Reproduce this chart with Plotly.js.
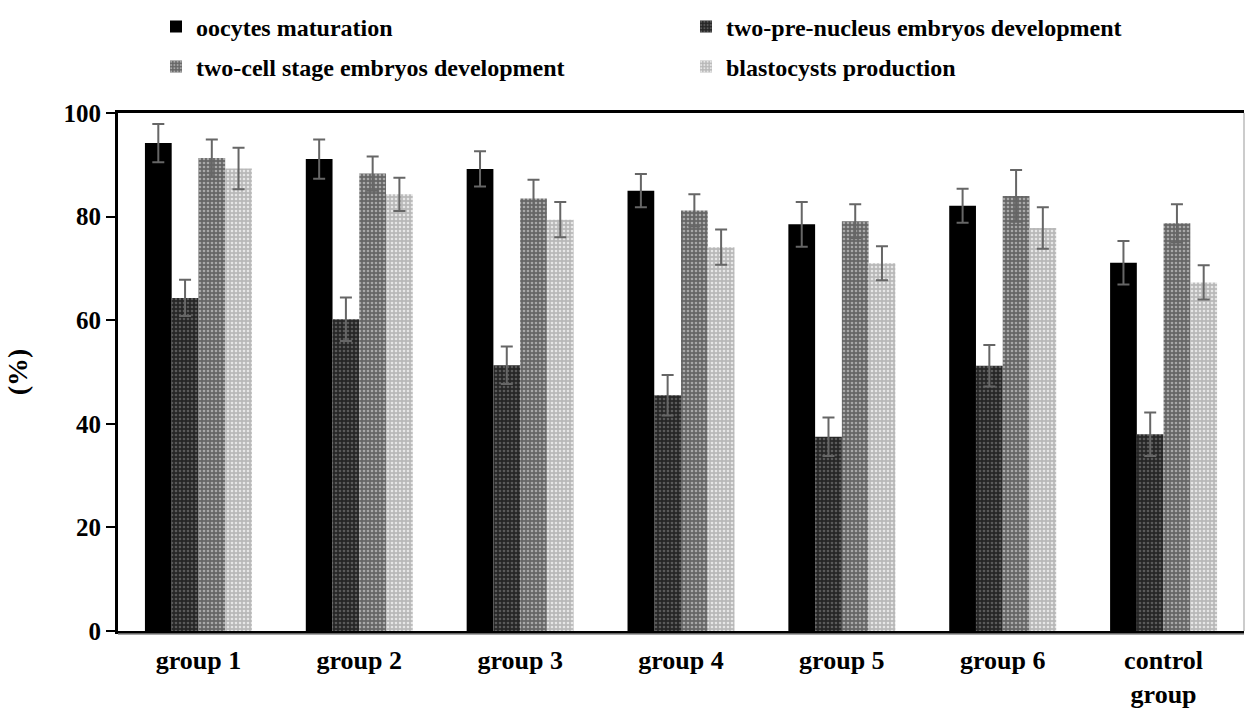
<!DOCTYPE html>
<html><head><meta charset="utf-8">
<script src="https://cdn.plot.ly/plotly-3.0.1.min.js"></script>
<style>html,body{margin:0;padding:0;background:#fff}#chart{width:1245px;height:710px}</style>
</head><body><div id="chart"></div>
<script>
const groups = ["group 1","group 2","group 3","group 4","group 5","group 6","control<br>group"];
const seriesNames = ["oocytes maturation","two-pre-nucleus embryos development","two-cell stage embryos development","blastocysts production"];
const oocytes = [94.2, 91.1, 89.2, 85.0, 78.5, 82.1, 71.1];
const oocytesErr = [3.7, 3.8, 3.4, 3.2, 4.3, 3.3, 4.2];
const twoPre = [64.3, 60.2, 51.3, 45.5, 37.5, 51.2, 38.0];
const twoPreErr = [3.5, 4.2, 3.6, 3.9, 3.7, 4.0, 4.2];
const twoCell = [91.3, 88.3, 83.5, 81.2, 79.1, 84.0, 78.7];
const twoCellErr = [3.6, 3.3, 3.6, 3.1, 3.3, 5.0, 3.7];
const blasto = [89.3, 84.3, 79.4, 74.1, 71.0, 77.8, 67.3];
const blastoErr = [4.0, 3.2, 3.4, 3.4, 3.3, 4.0, 3.3];
const yTicks = [0, 20, 40, 60, 80, 100];

const values = [oocytes, twoPre, twoCell, blasto];
const errs = [oocytesErr, twoPreErr, twoCellErr, blastoErr];
const styles = [
  {color:"#000000", pattern:{shape:""}},
  {color:"#2b2b2b", pattern:{shape:".", fgcolor:"#5a5a5a", bgcolor:"#262626", size:4, solidity:0.35, fillmode:"replace"}},
  {color:"#6e6e6e", pattern:{shape:".", fgcolor:"#a8a8a8", bgcolor:"#666666", size:4, solidity:0.35, fillmode:"replace"}},
  {color:"#c4c4c4", pattern:{shape:".", fgcolor:"#e6e6e6", bgcolor:"#b8b8b8", size:4, solidity:0.35, fillmode:"replace"}}
];
const legendsFor = ["legend","legend","legend2","legend2"];

const traces = values.map((v,i)=>({
  type:"bar", name:seriesNames[i], x:groups, y:v,
  marker:{color:styles[i].color, pattern:styles[i].pattern, line:{width:0}},
  error_y:{type:"data", array:errs[i], visible:true, color:"#666666", thickness:2, width:6},
  legend:legendsFor[i], hoverinfo:"y"
}));

const font = {family:"Liberation Serif, Times New Roman, serif", size:24, color:"#000", weight:"bold"};

const legendBase = {orientation:"h", xref:"container", x:156/1245, xanchor:"left", yref:"container", yanchor:"middle",
    entrywidth:485, entrywidthmode:"pixels", font:font, itemwidth:30, bgcolor:"rgba(0,0,0,0)", traceorder:"normal"};

const layout = {
  width:1245, height:710,
  margin:{l:118, r:1, t:113, b:79},
  paper_bgcolor:"#fff", plot_bgcolor:"#fff",
  barmode:"group", bargap:0.335, bargroupgap:0,
  font:font,
  xaxis:{type:"category", showline:true, linecolor:"#000", linewidth:3, mirror:true,
    ticks:"", showgrid:false, tickfont:{...font, size:26}, ticklabelstandoff:4, automargin:false},
  yaxis:{range:[0,100], tickvals:yTicks, showline:true, linecolor:"#000", linewidth:3,
    ticks:"outside", ticklen:9, tickwidth:2, tickcolor:"#000", showgrid:false, zeroline:false,
    tickfont:{...font, size:25}, title:{text:"(%)", font:{...font, size:28}, standoff:28}, automargin:false},
  legend:{...legendBase, y:1-27/710},
  legend2:{...legendBase, y:1-67/710},
  shapes:[{type:"line", xref:"paper", yref:"paper", x0:1, x1:1, y0:0, y1:1, line:{color:"#999", width:1}},
          {type:"line", xref:"paper", yref:"paper", x0:0, x1:1, y0:-0.006, y1:-0.006, line:{color:"#888", width:1.5}}]
};
Plotly.newPlot("chart", traces, layout, {displayModeBar:false, staticPlot:true});
</script></body></html>
